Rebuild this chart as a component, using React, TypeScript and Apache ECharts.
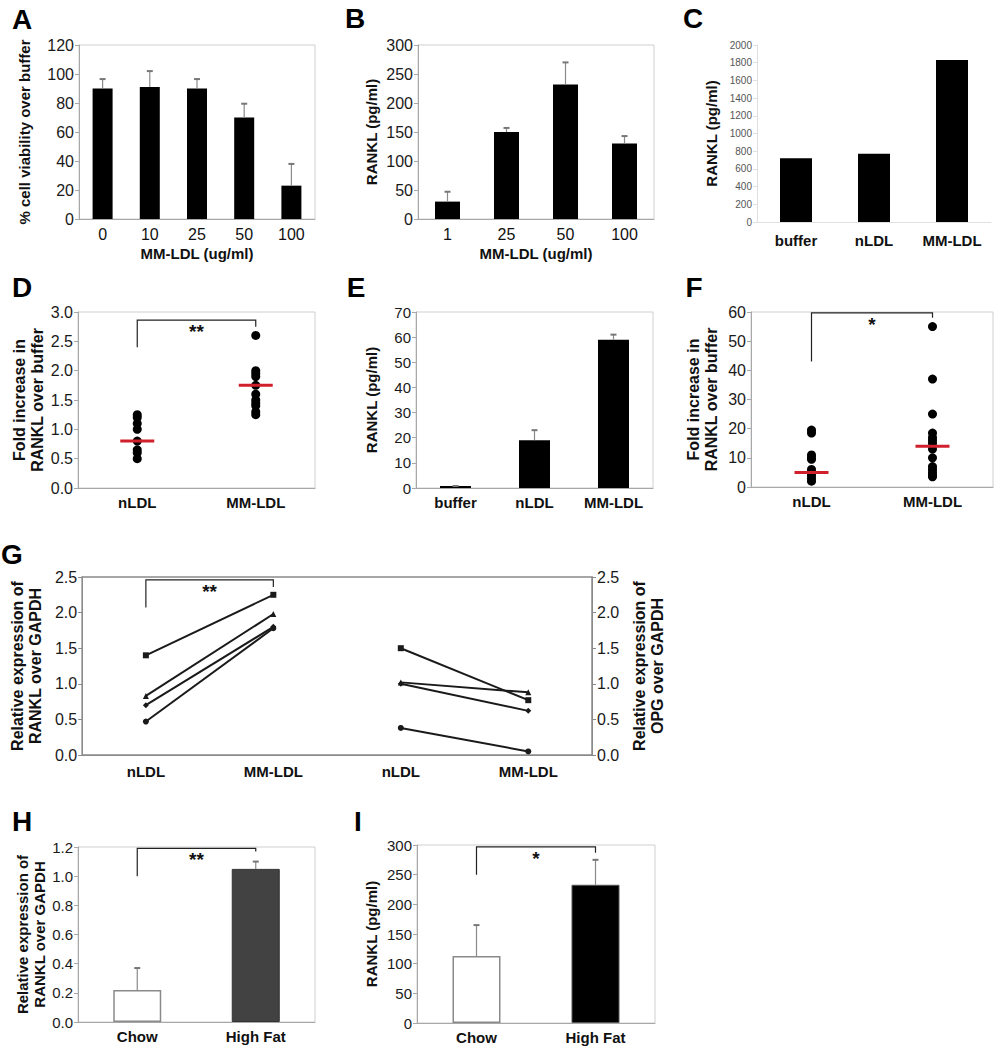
import React, { useEffect, useRef } from "react";
import * as echarts from "echarts";

// ---------------- DATA ----------------
// Panel A
const aCategories = ["0", "10", "25", "50", "100"];
const aValues = [90, 91, 90, 70, 23];
const aErrTop = [96.5, 102, 96.5, 79.5, 38];
// Panel B
const bCategories = ["1", "25", "50", "100"];
const bValues = [30, 150, 232, 130];
const bErrTop = [47, 157, 270, 143];
// Panel C
const cCategories = ["buffer", "nLDL", "MM-LDL"];
const cValues = [720, 770, 1830];
// Panel D
const dCategories = ["nLDL", "MM-LDL"];
const dNLDL = [1.25, 1.2, 1.1, 1.0, 0.8, 0.65, 0.6, 0.5];
const dMMLDL = [2.6, 2.0, 1.95, 1.9, 1.75, 1.6, 1.5, 1.45, 1.4, 1.3, 1.25];
const dMedians = [0.8, 1.75];
// Panel E
const eCategories = ["buffer", "nLDL", "MM-LDL"];
const eValues = [0.8, 19, 59];
const eErrTop = [0.8, 23, 61];
// Panel F
const fCategories = ["nLDL", "MM-LDL"];
const fNLDL = [19.5, 18.5, 11, 10, 9.5, 6, 5, 4, 3, 2];
const fMMLDL = [55, 37, 25, 18.5, 17, 16, 15, 13, 10, 7, 6, 5, 4, 3.5];
const fMedians = [5, 14];
// Panel G
const gCategories = ["nLDL", "MM-LDL", "nLDL", "MM-LDL"];
const gRankl = [
  [1.4, 2.25],
  [0.83, 1.98],
  [0.7, 1.8],
  [0.47, 1.78],
];
const gOpg = [
  [1.5, 0.77],
  [1.02, 0.88],
  [1.0, 0.62],
  [0.38, 0.05],
];
const gSymbols = ["rect", "triangle", "diamond", "circle"];
// Panel H
const hCategories = ["Chow", "High Fat"];
const hValues = [0.22, 1.05];
const hErrTop = [0.37, 1.1];
// Panel I
const iCategories = ["Chow", "High Fat"];
const iValues = [113, 233];
const iErrTop = [165, 275];
// Significance brackets: [fromIdx, toIdx, startY, topY, endY]
const dBracket = [0, 1, 2.4, 2.86, 2.75];
const fBracket = [0, 1, 43, 59.7, 58];
const gBracket = [0, 1, 2.07, 2.46, 2.36];
const hBracket = [0, 1, 1.0, 1.19, 1.17];
const iBracket = [0, 1, 250, 297, 287];
const dSig = "**";
const fSig = "*";
const gSig = "**";
const hSig = "**";
const iSig = "*";
const panelLetters = ["A", "B", "C", "D", "E", "F", "G", "H", "I"];

// ---------------- STYLE / LAYOUT ----------------
const FONT = "'Liberation Sans', Arial, Helvetica, sans-serif";
const NARROW = "'Liberation Sans Narrow', 'Liberation Sans', Arial, sans-serif";
const letterPos = [
  [22, 19],
  [355, 18],
  [693, 18],
  [22, 287],
  [356, 287],
  [694, 287],
  [12, 554],
  [22, 821],
  [358, 821],
];

const grids = [
  { left: 79, top: 45, width: 236, height: 174 }, // A
  { left: 418, top: 45, width: 236, height: 174 }, // B
  { left: 757, top: 45, width: 234, height: 177 }, // C
  { left: 78, top: 312, width: 237, height: 176 }, // D
  { left: 416, top: 312, width: 237, height: 176 }, // E
  { left: 751, top: 312, width: 242, height: 175 }, // F
  { left: 80, top: 577, width: 512, height: 178 }, // G
  { left: 78, top: 847, width: 237, height: 175 }, // H
  { left: 417, top: 845, width: 238, height: 178 }, // I
].map((g, i) => ({
  ...g,
  show: i !== 2,
  borderColor: i === 6 ? "#8a8a8a" : "#cfcfcf",
  borderWidth: i === 6 ? 1.5 : 1,
}));

function valAxis(o: any) {
  return {
    type: "value",
    gridIndex: o.grid,
    min: o.min,
    max: o.max,
    interval: o.interval,
    position: o.position || "left",
    name: o.name,
    nameLocation: "middle",
    nameGap: o.nameGap,
    nameRotate: 90,
    nameTextStyle: {
      fontFamily: FONT,
      fontWeight: "bold",
      fontSize: o.nameSize || 15,
      color: "#111",
      lineHeight: (o.nameSize || 15) + 2,
    },
    axisLine: { show: true, lineStyle: { color: o.lineColor || "#a8a8a8", width: 1 } },
    axisTick: { show: true, length: 4, lineStyle: { color: o.lineColor || "#a8a8a8" } },
    axisLabel: {
      fontFamily: o.labelFont || FONT,
      fontSize: o.labelSize || 15,
      color: o.labelColor || "#1a1a1a",
      margin: 5,
      formatter: (v: number) => (o.decimals ? v.toFixed(o.decimals) : String(v)),
    },
    splitLine: { show: false },
  };
}

function catAxis(o: any) {
  return {
    type: "category",
    gridIndex: o.grid,
    data: o.data,
    boundaryGap: true,
    name: o.name,
    nameLocation: "middle",
    nameGap: o.nameGap,
    nameTextStyle: { fontFamily: FONT, fontWeight: "bold", fontSize: 15, color: "#111" },
    axisLine: { show: true, lineStyle: { color: o.lineColor || "#a8a8a8" } },
    axisTick: { show: false },
    axisLabel: {
      fontFamily: o.bold ? FONT : NARROW,
      fontWeight: o.bold ? "bold" : "normal",
      fontSize: o.labelSize || 15,
      color: "#111",
      margin: o.margin || 7,
      interval: 0,
    },
  };
}

const errorBarItem = (params: any, api: any) => {
  const x = api.value(0);
  const base = api.coord([x, api.value(1)]);
  const top = api.coord([x, api.value(2)]);
  return {
    type: "group",
    children: [
      {
        type: "line",
        shape: { x1: base[0], y1: base[1], x2: top[0], y2: top[1] },
        style: { stroke: "#8a8a8a", lineWidth: 1.2 },
      },
      {
        type: "line",
        shape: { x1: top[0] - 3, y1: top[1], x2: top[0] + 3, y2: top[1] },
        style: { stroke: "#777", lineWidth: 2 },
      },
    ],
  };
};

const bracketItem = (label: string) => (params: any, api: any) => {
  const x0 = api.value(0);
  const x1 = api.value(1);
  const a = api.coord([x0, api.value(2)]);
  const b = api.coord([x0, api.value(3)]);
  const c = api.coord([x1, api.value(3)]);
  const d = api.coord([x1, api.value(4)]);
  return {
    type: "group",
    children: [
      {
        type: "polyline",
        shape: { points: [a, b, c, d] },
        style: { stroke: "#222", lineWidth: 1.2, fill: null },
      },
      {
        type: "text",
        x: (b[0] + c[0]) / 2,
        y: b[1] + 2,
        style: {
          text: label,
          fontSize: 19,
          fontWeight: "bold",
          fontFamily: FONT,
          fill: "#111",
          align: "center",
          verticalAlign: "top",
        },
      },
    ],
  };
};

function errSeries(axis: number, values: number[], tops: number[]) {
  return {
    type: "custom",
    xAxisIndex: axis,
    yAxisIndex: axis,
    renderItem: errorBarItem,
    encode: { x: 0, y: [1, 2] },
    data: values.map((v, i) => [i, v, tops[i]]),
    z: 3,
  };
}

function bracketSeries(axis: number, yAxis: number, br: number[], label: string) {
  return {
    type: "custom",
    xAxisIndex: axis,
    yAxisIndex: yAxis,
    renderItem: bracketItem(label),
    encode: { x: [0, 1], y: [2, 3, 4] },
    data: [br],
    z: 4,
  };
}

function dotSeries(axis: number, groups: number[][]) {
  const data: number[][] = [];
  groups.forEach((g, gi) => g.forEach((v) => data.push([gi, v])));
  return {
    type: "scatter",
    xAxisIndex: axis,
    yAxisIndex: axis,
    symbol: "circle",
    symbolSize: 9,
    itemStyle: { color: "#000", opacity: 1 },
    data,
    z: 3,
  };
}

function medianSeries(axis: number, meds: number[]) {
  return {
    type: "scatter",
    xAxisIndex: axis,
    yAxisIndex: axis,
    symbol: "rect",
    symbolSize: [34, 3],
    itemStyle: { color: "#d0202c", opacity: 1 },
    data: meds.map((v, i) => [i, v]),
    z: 5,
  };
}

const hBarStyles = [
  { color: "#ffffff", borderColor: "#8a8a8a", borderWidth: 1.5 },
  { color: "#424242", borderColor: "#333", borderWidth: 1 },
];
const iBarStyles = [
  { color: "#ffffff", borderColor: "#8a8a8a", borderWidth: 1.5 },
  { color: "#000000", borderColor: "#555", borderWidth: 1 },
];

function buildOption() {
  const xAxis = [
    catAxis({ grid: 0, data: aCategories, name: "MM-LDL (ug/ml)", nameGap: 27, labelSize: 16 }),
    catAxis({ grid: 1, data: bCategories, name: "MM-LDL (ug/ml)", nameGap: 27, labelSize: 16 }),
    catAxis({ grid: 2, data: cCategories, bold: true, margin: 11, lineColor: "#e0e0e0" }),
    catAxis({ grid: 3, data: dCategories, bold: true }),
    catAxis({ grid: 4, data: eCategories, bold: true }),
    catAxis({ grid: 5, data: fCategories, bold: true }),
    catAxis({ grid: 6, data: gCategories, bold: true, lineColor: "#8a8a8a", margin: 9 }),
    catAxis({ grid: 7, data: hCategories, bold: true }),
    catAxis({ grid: 8, data: iCategories, bold: true }),
  ];
  const yAxis = [
    valAxis({ grid: 0, min: 0, max: 120, interval: 20, name: "% cell viability over buffer", nameGap: 46, labelFont: NARROW, labelSize: 16 }),
    valAxis({ grid: 1, min: 0, max: 300, interval: 50, name: "RANKL (pg/ml)", nameGap: 38, labelFont: NARROW, labelSize: 16 }),
    valAxis({ grid: 2, min: 0, max: 2000, interval: 200, name: "RANKL (pg/ml)", nameGap: 37, labelSize: 10, labelColor: "#555", lineColor: "#e0e0e0" }),
    valAxis({ grid: 3, min: 0, max: 3, interval: 0.5, decimals: 1, name: "Fold increase in\nRANKL over buffer", nameGap: 28, nameSize: 16, labelSize: 16 }),
    valAxis({ grid: 4, min: 0, max: 70, interval: 10, name: "RANKL (pg/ml)", nameGap: 36 }),
    valAxis({ grid: 5, min: 0, max: 60, interval: 10, name: "Fold increase in\nRANKL over buffer", nameGap: 31, nameSize: 16, labelSize: 16 }),
    valAxis({ grid: 6, min: 0, max: 2.5, interval: 0.5, decimals: 1, name: "Relative expression of\nRANKL over GAPDH", nameGap: 32, nameSize: 16, lineColor: "#8a8a8a", labelSize: 16 }),
    valAxis({ grid: 7, min: 0, max: 1.2, interval: 0.2, decimals: 1, name: "Relative expression of\nRANKL over GAPDH", nameGap: 26 }),
    valAxis({ grid: 8, min: 0, max: 300, interval: 50, name: "RANKL (pg/ml)", nameGap: 37 }),
    valAxis({ grid: 6, min: 0, max: 2.5, interval: 0.5, decimals: 1, position: "right", name: "Relative expression of\nOPG over GAPDH", nameGap: 14, nameSize: 16, lineColor: "#8a8a8a", labelSize: 16 }),
  ];

  const series: any[] = [
    // A
    { type: "bar", xAxisIndex: 0, yAxisIndex: 0, data: aValues, barWidth: 20, itemStyle: { color: "#000" } },
    errSeries(0, aValues, aErrTop),
    // B
    { type: "bar", xAxisIndex: 1, yAxisIndex: 1, data: bValues, barWidth: 25, itemStyle: { color: "#000" } },
    errSeries(1, bValues, bErrTop),
    // C
    { type: "bar", xAxisIndex: 2, yAxisIndex: 2, data: cValues, barWidth: 32, itemStyle: { color: "#000" } },
    // D
    dotSeries(3, [dNLDL, dMMLDL]),
    medianSeries(3, dMedians),
    bracketSeries(3, 3, dBracket, dSig),
    // E
    { type: "bar", xAxisIndex: 4, yAxisIndex: 4, data: eValues, barWidth: 31, itemStyle: { color: "#000" } },
    errSeries(4, eValues, eErrTop),
    // F
    dotSeries(5, [fNLDL, fMMLDL]),
    medianSeries(5, fMedians),
    bracketSeries(5, 5, fBracket, fSig),
    // G
    bracketSeries(6, 6, gBracket, gSig),
    // H
    {
      type: "bar",
      xAxisIndex: 7,
      yAxisIndex: 7,
      barWidth: 48,
      data: hValues.map((v, i) => ({ value: v, itemStyle: hBarStyles[i] })),
    },
    errSeries(7, hValues, hErrTop),
    bracketSeries(7, 7, hBracket, hSig),
    // I
    {
      type: "bar",
      xAxisIndex: 8,
      yAxisIndex: 8,
      barWidth: 48,
      data: iValues.map((v, i) => ({ value: v, itemStyle: iBarStyles[i] })),
    },
    errSeries(8, iValues, iErrTop),
    bracketSeries(8, 8, iBracket, iSig),
  ];

  gRankl.forEach((pair, i) => {
    series.push({
      type: "line",
      xAxisIndex: 6,
      yAxisIndex: 6,
      data: [pair[0], pair[1], "-", "-"],
      symbol: gSymbols[i],
      symbolSize: 6,
      showSymbol: true,
      itemStyle: { color: "#1a1a1a" },
      lineStyle: { color: "#1a1a1a", width: 2 },
      z: 3,
    });
  });
  gOpg.forEach((pair, i) => {
    series.push({
      type: "line",
      xAxisIndex: 6,
      yAxisIndex: 9,
      data: ["-", "-", pair[0], pair[1]],
      symbol: gSymbols[i],
      symbolSize: 6,
      showSymbol: true,
      itemStyle: { color: "#1a1a1a" },
      lineStyle: { color: "#1a1a1a", width: 2 },
      z: 3,
    });
  });

  const graphic = panelLetters.map((l, i) => ({
    type: "text",
    x: letterPos[i][0],
    y: letterPos[i][1],
    style: {
      text: l,
      fontFamily: FONT,
      fontWeight: "bold",
      fontSize: 28,
      fill: "#000",
      align: "center",
      verticalAlign: "middle",
    },
  }));

  return {
    animation: false,
    backgroundColor: "#ffffff",
    grid: grids,
    xAxis,
    yAxis,
    series,
    graphic,
  };
}

export default function App() {
  const ref = useRef<HTMLDivElement>(null);
  useEffect(() => {
    if (!ref.current) return;
    const chart = echarts.init(ref.current, undefined, { renderer: "svg" });
    chart.setOption(buildOption() as any);
    return () => chart.dispose();
  }, []);
  return (
    <div
      ref={ref}
      style={{ position: "absolute", left: 0, top: 0, width: 1002, height: 1050, background: "#fff" }}
    />
  );
}
